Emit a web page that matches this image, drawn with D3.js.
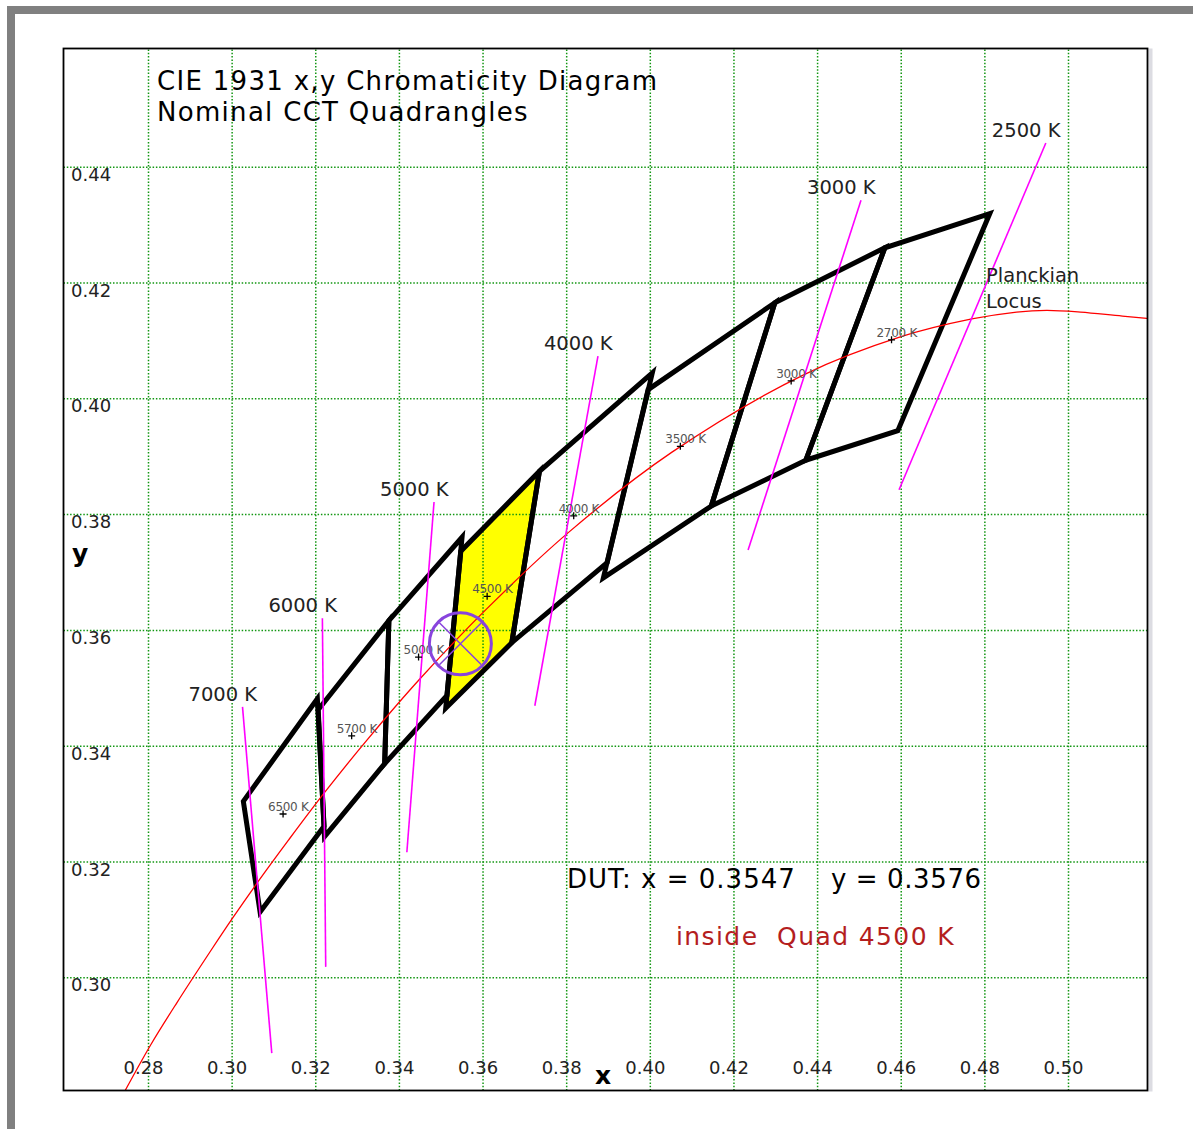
<!DOCTYPE html>
<html>
<head>
<meta charset="utf-8">
<script src="https://cdn.jsdelivr.net/npm/d3@7"></script>
<style>
  body { margin: 0; background: #fff; }
  text { font-family: 'DejaVu Sans', Verdana, sans-serif; }
</style>
</head>
<body>
<div id="chart"></div>
<script>
const width = 1193;
const height = 1129;
const frame = { left: 63.5, top: 48.5, right: 1147.5, bottom: 1090.5 };

// axis ticks
const xTicks = [0.28, 0.30, 0.32, 0.34, 0.36, 0.38, 0.40, 0.42, 0.44, 0.46, 0.48, 0.50];
const yTicks = [0.30, 0.32, 0.34, 0.36, 0.38, 0.40, 0.42, 0.44];

// planckian locus (x, y)
const locusX = [0.2742, 0.2807, 0.2869, 0.2952, 0.3003, 0.3064, 0.3135, 0.3221, 0.3324, 0.3451, 0.3608, 0.3805, 0.4053, 0.4369, 0.4599, 0.4770, 0.4877, 0.4949, 0.5030, 0.5130, 0.5267];
const locusY = [0.2800, 0.2884, 0.2956, 0.3048, 0.3103, 0.3166, 0.3236, 0.3318, 0.3410, 0.3516, 0.3635, 0.3768, 0.3907, 0.4041, 0.4106, 0.4137, 0.4149, 0.4152, 0.4149, 0.4142, 0.4133];

// nominal CCT quadrangles, 4 corners each
const quadNames = ['2700 K', '3000 K', '3500 K', '4000 K', '4500 K', '5000 K', '5700 K', '6500 K'];
const quadX = [
    [0.4813, 0.4562, 0.4373, 0.4593],
    [0.4562, 0.4299, 0.4147, 0.4373],
    [0.4299, 0.3996, 0.3889, 0.4147],
    [0.4006, 0.3736, 0.3670, 0.3898],
    [0.3736, 0.3548, 0.3512, 0.3670],
    [0.3551, 0.3376, 0.3366, 0.3515],
    [0.3376, 0.3207, 0.3222, 0.3366],
    [0.3205, 0.3028, 0.3068, 0.3221]
];
const quadY = [
    [0.4319, 0.4260, 0.3893, 0.3944],
    [0.4260, 0.4165, 0.3814, 0.3893],
    [0.4165, 0.4015, 0.3690, 0.3814],
    [0.4044, 0.3874, 0.3578, 0.3716],
    [0.3874, 0.3736, 0.3465, 0.3578],
    [0.3760, 0.3616, 0.3369, 0.3487],
    [0.3616, 0.3462, 0.3243, 0.3369],
    [0.3481, 0.3304, 0.3113, 0.3261]
];
const centerX = [0.4578, 0.4338, 0.4073, 0.3818, 0.3611, 0.3447, 0.3287, 0.3123];
const centerY = [0.4101, 0.4030, 0.3917, 0.3797, 0.3658, 0.3553, 0.3417, 0.3282];

// isotemperature lines
const isoNames = ['2500 K', '3000 K', '4000 K', '5000 K', '6000 K', '7000 K'];
const isoTopX = [0.4947, 0.4505, 0.3876, 0.3484, 0.3217, 0.3026];
const isoTopY = [0.4441, 0.4342, 0.4073, 0.3821, 0.3620, 0.3467];
const isoBotX = [0.4596, 0.4235, 0.3725, 0.3419, 0.3225, 0.3096];
const isoBotY = [0.3842, 0.3738, 0.3469, 0.3216, 0.3018, 0.2869];

// device under test
const dutX = 0.3547;
const dutY = 0.3576;
const dutQuad = '4500 K';

const x = d3.scaleLinear().domain([0.28, 0.50]).range([148, 1068]);
const y = d3.scaleLinear().domain([0.30, 0.44]).range([977.3, 166.7]);

// canvas
const svg = d3.select('#chart')
    .append('svg')
    .attr('width', width)
    .attr('height', height);

svg.append('rect').attr('width', width).attr('height', height).attr('fill', '#fff');

// grey window border
svg.append('rect').attr('x', 7).attr('y', 6).attr('width', width - 7).attr('height', 8).attr('fill', '#808080');
svg.append('rect').attr('x', 7).attr('y', 6).attr('width', 8).attr('height', height - 6).attr('fill', '#808080');
svg.append('rect').attr('x', frame.right + 1).attr('y', frame.top).attr('width', 4)
    .attr('height', frame.bottom - frame.top + 1).attr('fill', '#dcdce2');

svg.append('clipPath').attr('id', 'plot')
    .append('rect')
    .attr('x', frame.left).attr('y', frame.top)
    .attr('width', frame.right - frame.left).attr('height', frame.bottom - frame.top);

const plot = svg.append('g').attr('clip-path', 'url(#plot)');

// yellow quad of the DUT
const quadIndex = quadNames.indexOf(dutQuad);
const quadLine = d3.line().x(d => x(d[0])).y(d => y(d[1]));
const corners = (i) => quadX[i].map((v, j) => [v, quadY[i][j]]);

plot.append('path')
    .attr('d', quadLine(corners(quadIndex)) + 'Z')
    .attr('fill', '#ffff00');

// grid
const xGrid = plot.append('g')
    .attr('transform', `translate(0,${frame.bottom})`)
    .call(d3.axisBottom(x).tickValues(xTicks).tickSize(-(frame.bottom - frame.top)).tickFormat(''));
const yGrid = plot.append('g')
    .attr('transform', `translate(${frame.left},0)`)
    .call(d3.axisLeft(y).tickValues(yTicks).tickSize(-(frame.right - frame.left)).tickFormat(''));
[xGrid, yGrid].forEach(g => {
    g.select('.domain').remove();
    g.selectAll('line')
        .attr('stroke', '#129612')
        .attr('stroke-width', 1.5)
        .attr('stroke-dasharray', '1.5,1.8');
});

// quadrangles
plot.selectAll('path.quad')
    .data(quadNames)
    .enter()
    .append('path')
    .attr('class', 'quad')
    .attr('d', (d, i) => quadLine(corners(i)) + 'Z')
    .attr('fill', 'none')
    .attr('stroke', '#000')
    .attr('stroke-width', 5)
    .attr('stroke-linejoin', 'miter');

// planckian locus
plot.append('path')
    .attr('d', d3.line().curve(d3.curveCatmullRom)
        .x(d => x(d[0])).y(d => y(d[1]))(locusX.map((v, i) => [v, locusY[i]])))
    .attr('fill', 'none')
    .attr('stroke', '#ff0000')
    .attr('stroke-width', 1.3);

// isotemperature lines
plot.selectAll('line.iso')
    .data(isoNames)
    .enter()
    .append('line')
    .attr('class', 'iso')
    .attr('x1', (d, i) => x(isoTopX[i]))
    .attr('y1', (d, i) => y(isoTopY[i]))
    .attr('x2', (d, i) => x(isoBotX[i]))
    .attr('y2', (d, i) => y(isoBotY[i]))
    .attr('stroke', '#ff00ff')
    .attr('stroke-width', 1.6);

svg.selectAll('text.iso')
    .data(isoNames)
    .enter()
    .append('text')
    .attr('class', 'iso')
    .attr('x', (d, i) => x(isoTopX[i]) - 54)
    .attr('y', (d, i) => y(isoTopY[i]) - 6)
    .attr('font-size', 19.5)
    .attr('fill', '#222')
    .text(d => d);

// nominal centre markers
const centres = svg.selectAll('g.centre')
    .data(quadNames)
    .enter()
    .append('g')
    .attr('class', 'centre')
    .attr('transform', (d, i) => `translate(${x(centerX[i])},${y(centerY[i])})`);

centres.append('path')
    .attr('d', 'M-3.5,0H3.5M0,-3.5V3.5')
    .attr('stroke', '#000')
    .attr('stroke-width', 1.3);

centres.append('text')
    .attr('x', -15)
    .attr('y', -3)
    .attr('font-size', 12)
    .attr('letter-spacing', -0.3)
    .attr('fill', '#555')
    .text(d => d);

// DUT circle
const dut = svg.append('g')
    .attr('transform', `translate(${x(dutX)},${y(dutY)})`);
dut.append('circle')
    .attr('r', 31)
    .attr('fill', 'none')
    .attr('stroke', '#8844dd')
    .attr('stroke-width', 3);
dut.append('path')
    .attr('d', 'M-21,-21L21,21M21,-21L-21,21')
    .attr('stroke', '#8844dd')
    .attr('stroke-width', 1.5);

// tick labels
const xLabels = svg.append('g')
    .attr('transform', 'translate(-5,1061)')
    .call(d3.axisBottom(x).tickValues(xTicks).tickSize(0).tickPadding(0).tickFormat(d3.format('.2f')));
const yLabels = svg.append('g')
    .attr('transform', 'translate(71,0)')
    .call(d3.axisLeft(y).tickValues(yTicks).tickSize(0).tickPadding(0).tickFormat(d3.format('.2f')));
[xLabels, yLabels].forEach(g => {
    g.select('.domain').remove();
    g.attr('font-family', null).attr('font-size', 18);
    g.selectAll('text').attr('fill', '#222');
});
yLabels.selectAll('text').attr('text-anchor', 'start').attr('x', 0).attr('dy', '0.75em');

// axis names
svg.append('text').attr('x', 72).attr('y', 562)
    .attr('font-size', 25).attr('font-weight', 'bold').text('y');
svg.append('text').attr('x', 595).attr('y', 1084)
    .attr('font-size', 25).attr('font-weight', 'bold').text('x');

// title
svg.append('text').attr('x', 157).attr('y', 90)
    .attr('font-size', 26).attr('letter-spacing', 1.3)
    .text('CIE 1931 x,y Chromaticity Diagram');
svg.append('text').attr('x', 157).attr('y', 121)
    .attr('font-size', 26).attr('letter-spacing', 1.3)
    .text('Nominal CCT Quadrangles');

// locus label
svg.append('text').attr('x', 986).attr('y', 282)
    .attr('font-size', 19.5).attr('fill', '#222').text('Planckian');
svg.append('text').attr('x', 986).attr('y', 308)
    .attr('font-size', 19.5).attr('fill', '#222').text('Locus');

// DUT readout
svg.append('text').attr('x', 567).attr('y', 888)
    .attr('font-size', 26).attr('letter-spacing', 1)
    .text(`DUT: x = ${dutX.toFixed(4)}`);
svg.append('text').attr('x', 831).attr('y', 888)
    .attr('font-size', 26).attr('letter-spacing', 0.6)
    .text(`y = ${dutY.toFixed(4)}`);
svg.append('text').attr('x', 676).attr('y', 945)
    .attr('font-size', 25).attr('letter-spacing', 1.4)
    .style('white-space', 'pre')
    .attr('fill', '#b41e1e')
    .text(`inside  Quad ${dutQuad}`);

// plot frame
svg.append('rect')
    .attr('x', frame.left).attr('y', frame.top)
    .attr('width', frame.right - frame.left).attr('height', frame.bottom - frame.top)
    .attr('fill', 'none')
    .attr('stroke', '#000')
    .attr('stroke-width', 1.8);
</script>
</body>
</html>
